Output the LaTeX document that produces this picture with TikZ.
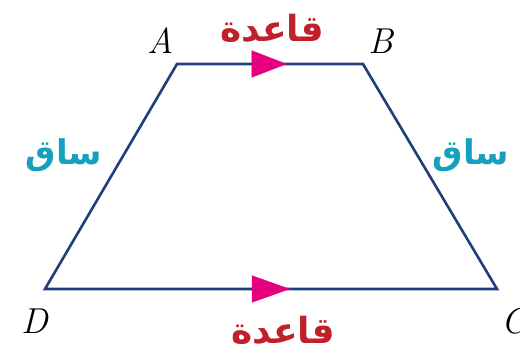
\documentclass[tikz,border=0pt]{standalone}
\usepackage{fontspec}
\usetikzlibrary{arrows.meta,decorations.markings}
\TeXXeTstate=1
\newfontfamily\arabicfont[Script=Arabic]{DejaVu Sans}
\definecolor{sidecol}{RGB}{32,62,122}
\definecolor{basecol}{RGB}{192,32,42}
\definecolor{legcol}{RGB}{22,160,190}
\definecolor{tipcol}{RGB}{230,0,126}
\begin{document}
\begin{tikzpicture}[x=1pt,y=1pt]
    \useasboundingbox (0,0) rectangle (520,353);
    \coordinate (A) at (177,289);
    \coordinate (B) at (363,289);
    \coordinate (C) at (497,64);
    \coordinate (D) at (45,64);
    \draw[sidecol, line width=2.6pt, line join=miter] (A) -- (B) -- (C) -- (D) -- cycle;
    % parallel marks on the bases
    \path[decoration={markings, mark=at position 0.59 with {\arrow[tipcol]{Triangle[length=35pt,width=27pt]}}}, decorate] (A) -- (B);
    \path[decoration={markings, mark=at position 0.542 with {\arrow[tipcol]{Triangle[length=38pt,width=27pt]}}}, decorate] (D) -- (C);
    \node[font=\fontsize{36}{36}\selectfont\itshape] (lA) at (161,312) {A};
    \node[font=\fontsize{36}{36}\selectfont\itshape] (lB) at (381,312) {B};
    \node[font=\fontsize{36}{36}\selectfont\itshape] (lC) at (514,32) {C};
    \node[font=\fontsize{36}{36}\selectfont\itshape] (lD) at (35,32) {D};
    \node[basecol, font=\fontsize{36}{36}\selectfont\bfseries] (top) at (272,325) {\arabicfont\beginR قاعدة\endR};
    \node[basecol, font=\fontsize{36}{36}\selectfont\bfseries] (bot) at (283,23) {\arabicfont\beginR قاعدة\endR};
    \node[legcol, font=\fontsize{34}{34}\selectfont\bfseries] (legL) at (64,198) {\arabicfont\beginR ساق\endR};
    \node[legcol, font=\fontsize{34}{34}\selectfont\bfseries] (legR) at (471,198) {\arabicfont\beginR ساق\endR};
\end{tikzpicture}
\end{document}
